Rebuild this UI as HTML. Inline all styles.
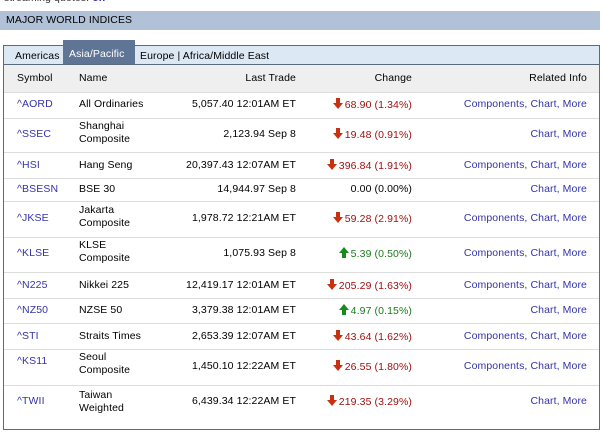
<!DOCTYPE html><html><head><style>
body{margin:0;width:603px;height:434px;background:#fff;position:relative;overflow:hidden;font-family:"Liberation Sans",sans-serif;font-size:10.5px;color:#000;letter-spacing:0.1px}
.a{position:absolute;white-space:nowrap;line-height:13px}
.r{text-align:right}
.l{position:absolute;left:4px;width:595px;height:1px;background:#ddd}
.b{color:#3333aa}.d{color:#a01010}.g{color:#1a7a1a}
.dn,.up{display:inline-block;width:10px;height:11px;vertical-align:-1px;margin-right:2px;position:relative}
.dn:before{content:"";position:absolute;left:3px;top:0;width:4px;height:5px;background:#c83010}
.dn:after{content:"";position:absolute;left:0;top:5px;border-left:5px solid transparent;border-right:5px solid transparent;border-top:6px solid #c83010}
.up:before{content:"";position:absolute;left:3px;top:6px;width:4px;height:5px;background:#1a8a1a}
.up:after{content:"";position:absolute;left:0;top:0;border-left:5px solid transparent;border-right:5px solid transparent;border-bottom:6px solid #1a8a1a}
</style></head><body>
<div class="a" style="top:-8px;left:4px;color:#333">streaming quotes: <b class="b">on</b></div>
<div style="position:absolute;left:0;top:11px;width:600px;height:19px;background:#b0c1d8"></div>
<div class="a" style="left:6px;top:14px;font-size:10.5px">MAJOR WORLD INDICES</div>
<div style="position:absolute;left:3px;top:45px;width:595px;height:384px;border:1px solid #5a6a80;border-top:none"></div>
<div style="position:absolute;left:3px;top:45px;width:595px;height:18px;background:#dde8f5;border:1px solid #5a6a80"></div>
<div style="position:absolute;left:63px;top:40px;width:72px;height:24px;background:#5f7596"></div>
<div class="a" style="left:15px;top:50px">Americas</div>
<div class="a" style="left:69px;top:48px;color:#fff">Asia/Pacific</div>
<div class="a" style="left:140px;top:50px">Europe | Africa/Middle East</div>
<div style="position:absolute;left:4px;top:65px;width:595px;height:27px;background:#efefef"></div>
<div class="a" style="left:17px;top:72px">Symbol</div>
<div class="a" style="left:79px;top:72px">Name</div>
<div class="a r" style="right:307px;top:72px">Last Trade</div>
<div class="a r" style="right:191px;top:72px">Change</div>
<div class="a r" style="right:16px;top:72px">Related Info</div>
<div class="l" style="top:92px"></div><div class="l" style="top:118px"></div><div class="l" style="top:152px"></div><div class="l" style="top:178px"></div><div class="l" style="top:201px"></div><div class="l" style="top:237px"></div><div class="l" style="top:272px"></div><div class="l" style="top:298px"></div><div class="l" style="top:323px"></div><div class="l" style="top:349px"></div><div class="l" style="top:385px"></div>

<div class="a b" style="left:17px;top:98px">^AORD</div><div class="a" style="left:79px;top:98px">All Ordinaries</div><div class="a r" style="right:307px;top:98px">5,057.40 12:01AM ET</div><div class="a r d" style="right:191px;top:98px"><i class="dn"></i>68.90 (1.34%)</div><div class="a r b" style="right:16px;top:98px">Components, Chart, More</div>

<div class="a b" style="left:17px;top:128px">^SSEC</div><div class="a" style="left:79px;top:120px">Shanghai<br>Composite</div><div class="a r" style="right:307px;top:128px">2,123.94 Sep 8</div><div class="a r d" style="right:191px;top:128px"><i class="dn"></i>19.48 (0.91%)</div><div class="a r b" style="right:16px;top:128px">Chart, More</div>

<div class="a b" style="left:17px;top:159px">^HSI</div><div class="a" style="left:79px;top:159px">Hang Seng</div><div class="a r" style="right:307px;top:159px">20,397.43 12:07AM ET</div><div class="a r d" style="right:191px;top:159px"><i class="dn"></i>396.84 (1.91%)</div><div class="a r b" style="right:16px;top:159px">Components, Chart, More</div>

<div class="a b" style="left:17px;top:183px">^BSESN</div><div class="a" style="left:79px;top:183px">BSE 30</div><div class="a r" style="right:307px;top:183px">14,944.97 Sep 8</div><div class="a r" style="right:191px;top:183px">0.00 (0.00%)</div><div class="a r b" style="right:16px;top:183px">Chart, More</div>

<div class="a b" style="left:17px;top:212px">^JKSE</div><div class="a" style="left:79px;top:204px">Jakarta<br>Composite</div><div class="a r" style="right:307px;top:212px">1,978.72 12:21AM ET</div><div class="a r d" style="right:191px;top:212px"><i class="dn"></i>59.28 (2.91%)</div><div class="a r b" style="right:16px;top:212px">Components, Chart, More</div>

<div class="a b" style="left:17px;top:247px">^KLSE</div><div class="a" style="left:79px;top:239px">KLSE<br>Composite</div><div class="a r" style="right:307px;top:247px">1,075.93 Sep 8</div><div class="a r g" style="right:191px;top:247px"><i class="up"></i>5.39 (0.50%)</div><div class="a r b" style="right:16px;top:247px">Components, Chart, More</div>

<div class="a b" style="left:17px;top:279px">^N225</div><div class="a" style="left:79px;top:279px">Nikkei 225</div><div class="a r" style="right:307px;top:279px">12,419.17 12:01AM ET</div><div class="a r d" style="right:191px;top:279px"><i class="dn"></i>205.29 (1.63%)</div><div class="a r b" style="right:16px;top:279px">Components, Chart, More</div>

<div class="a b" style="left:17px;top:304px">^NZ50</div><div class="a" style="left:79px;top:304px">NZSE 50</div><div class="a r" style="right:307px;top:304px">3,379.38 12:01AM ET</div><div class="a r g" style="right:191px;top:304px"><i class="up"></i>4.97 (0.15%)</div><div class="a r b" style="right:16px;top:304px">Chart, More</div>

<div class="a b" style="left:17px;top:330px">^STI</div><div class="a" style="left:79px;top:330px">Straits Times</div><div class="a r" style="right:307px;top:330px">2,653.39 12:07AM ET</div><div class="a r d" style="right:191px;top:330px"><i class="dn"></i>43.64 (1.62%)</div><div class="a r b" style="right:16px;top:330px">Components, Chart, More</div>

<div class="a b" style="left:17px;top:355px">^KS11</div><div class="a" style="left:79px;top:351px">Seoul<br>Composite</div><div class="a r" style="right:307px;top:360px">1,450.10 12:22AM ET</div><div class="a r d" style="right:191px;top:360px"><i class="dn"></i>26.55 (1.80%)</div><div class="a r b" style="right:16px;top:360px">Components, Chart, More</div>

<div class="a b" style="left:17px;top:395px">^TWII</div><div class="a" style="left:79px;top:389px">Taiwan<br>Weighted</div><div class="a r" style="right:307px;top:395px">6,439.34 12:22AM ET</div><div class="a r d" style="right:191px;top:395px"><i class="dn"></i>219.35 (3.29%)</div><div class="a r b" style="right:16px;top:395px">Chart, More</div>
</body></html>
